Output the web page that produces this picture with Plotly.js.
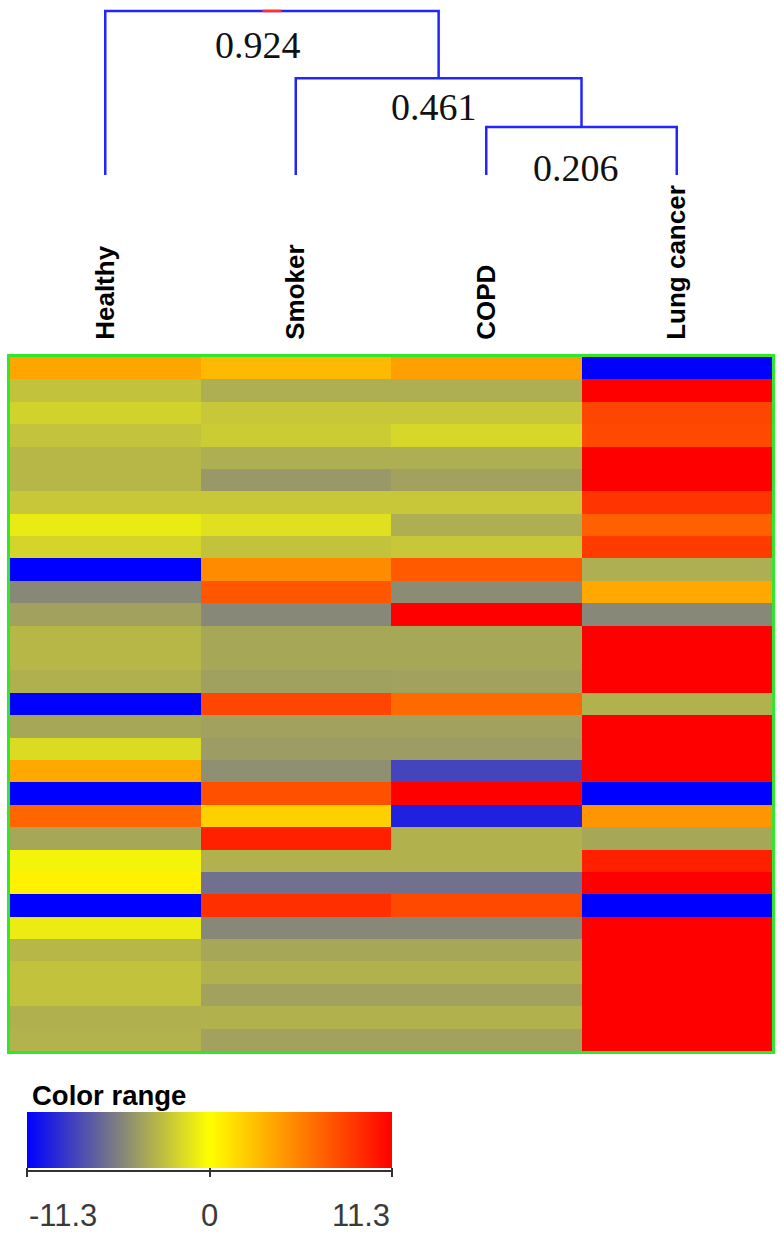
<!DOCTYPE html>
<html>
<head>
<meta charset="utf-8">
<script src="https://cdn.plot.ly/plotly-3.0.1.min.js"></script>
<style>
  html, body { margin: 0; padding: 0; background: #ffffff; }
  #chart { width: 781px; height: 1236px; }
</style>
</head>
<body>
<div id="chart"></div>
<script>
// ---------------- data ----------------
const groups = ['Healthy', 'Smoker', 'COPD', 'Lung cancer'];

const healthy    = [4.0, -2.7, -2.0, -2.65, -3.2, -3.2, -2.5, -0.9, -1.9, -11.3, -5.3, -4.15, -3.2, -3.2, -3.5, -11.3, -3.9, -1.6, 3.85, -11.3, 6.8, -3.9, -0.5, 0.6, -11.3, -0.85, -3.2, -2.7, -2.7, -3.5, -3.4];
const smoker     = [3.1, -3.6, -2.5, -2.3, -3.6, -4.6, -2.5, -1.4, -2.7, 5.1, 7.5, -5.3, -3.9, -3.9, -4.2, 8.2, -4.15, -4.4, -5.0, 7.75, 2.1, 9.9, -3.45, -6.3, 9.2, -5.3, -3.9, -3.45, -4.15, -3.45, -4.15];
const copd       = [4.25, -3.6, -2.5, -1.8, -3.6, -4.15, -2.5, -3.6, -2.5, 7.3, -5.1, 11.3, -3.9, -3.9, -4.15, 6.6, -4.15, -4.4, -8.3, 11.3, -9.9, -3.45, -3.45, -6.3, 8.1, -5.3, -3.9, -3.45, -4.15, -3.45, -4.15];
const lungCancer = [-11.3, 11.3, 8.2, 8.1, 11.3, 11.3, 9.0, 7.05, 8.7, -3.6, 3.8, -5.3, 11.3, 11.3, 11.3, -3.45, 11.3, 11.3, 11.3, -11.3, 4.7, -3.9, 9.9, 11.3, -11.3, 11.3, 11.3, 11.3, 11.3, 11.3, 11.3];

const colorMin = -11.3;
const colorMax = 11.3;
const colorTicks = [-11.3, 0, 11.3];
const colorTickText = ['-11.3', '0', '11.3'];
const colorTitle = 'Color range';

// dendrogram: merges [leftChild, rightChild]; leaves are 0..3, merges are 'm0','m1','m2'
const merges = [[2, 3], [1, 'm0'], [0, 'm1']];
const mergeDistance = ['0.206', '0.461', '0.924'];
const mergeDrawnHeight = [1.0, 2.02, 3.42];   // relative drawn heights

// ---------------- styling ----------------
const W = 781, H = 1236;
const px2x = p => p / W;
const px2y = p => 1 - p / H;
const barLeft = 27, barLen = 365;

const heat = {
  type: 'heatmap',
  x: groups,
  z: healthy.map((v, i) => [healthy[i], smoker[i], copd[i], lungCancer[i]]),
  zmin: colorMin, zmax: colorMax,
  colorscale: [[0, '#0000FF'], [0.25, '#808080'], [0.5, '#FFFF00'], [1, '#FF0000']],
  xaxis: 'x', yaxis: 'y',
  hoverinfo: 'skip',
  colorbar: {
    orientation: 'h',
    lenmode: 'pixels', len: barLen,
    thickness: 56, thicknessmode: 'pixels',
    x: px2x(barLeft), xanchor: 'left',
    y: px2y(1112), yanchor: 'top',
    xpad: 0, ypad: 0,
    outlinewidth: 0,
    tickmode: 'array', tickvals: colorTicks,
    showticklabels: false,
    ticks: 'outside', ticklen: 9, tickwidth: 2, tickcolor: '#333'
  }
};

// build dendrogram line segments from merges
const nodeX = {}, nodeY = {};
groups.forEach((g, i) => { nodeX[i] = i; nodeY[i] = 0; });
const dx = [], dy = [];
merges.forEach((m, k) => {
  const [a, b] = m;
  const h = mergeDrawnHeight[k];
  dx.push(nodeX[a], nodeX[a], nodeX[b], nodeX[b], null);
  dy.push(nodeY[a], h, h, nodeY[b], null);
  nodeX['m' + k] = (nodeX[a] + nodeX[b]) / 2;
  nodeY['m' + k] = h;
});
const dendro = {
  type: 'scatter', mode: 'lines', x: dx, y: dy,
  xaxis: 'x2', yaxis: 'y2',
  line: { color: '#2424FF', width: 2.5 },
  hoverinfo: 'skip', showlegend: false
};
const rootK = merges.length - 1;
const rootX = nodeX['m' + rootK];
const rootMark = {
  type: 'scatter', mode: 'lines',
  x: [rootX - 0.05, rootX + 0.05],
  y: [mergeDrawnHeight[rootK], mergeDrawnHeight[rootK]],
  xaxis: 'x2', yaxis: 'y2',
  line: { color: '#FF3030', width: 2.5 },
  hoverinfo: 'skip', showlegend: false
};

// label offsets, in the order of merges: 0.206, 0.461, 0.924
const labelShiftX = [-6, -5, -14];
const labelShiftY = [-18, -6, -11];
const annotations = merges.map((m, k) => ({
  x: nodeX['m' + k], y: mergeDrawnHeight[k], xref: 'x2', yref: 'y2',
  text: mergeDistance[k], showarrow: false,
  xanchor: 'center', yanchor: 'top',
  xshift: labelShiftX[k], yshift: labelShiftY[k],
  font: { family: 'Liberation Serif, Times New Roman, serif', size: 38, color: '#111' }
}));

// colour bar tick labels and title
const tickAnchors = ['left', 'center', 'right'];
colorTicks.forEach((v, i) => {
  annotations.push({
    x: px2x(barLeft + (v - colorMin) / (colorMax - colorMin) * barLen),
    y: px2y(1215), xref: 'paper', yref: 'paper',
    text: colorTickText[i], showarrow: false,
    xanchor: tickAnchors[i], yanchor: 'middle',
    font: { family: 'Liberation Sans, Arial, sans-serif', size: 31, color: '#3a3a3a' }
  });
});
annotations.push({
  x: px2x(30), y: px2y(1095), xref: 'paper', yref: 'paper',
  text: colorTitle, showarrow: false, xanchor: 'left', yanchor: 'middle',
  font: { family: 'Liberation Sans, Arial, sans-serif', size: 27.5, color: '#000', weight: 'bold' }
});

const pxPerUnit = 164 / 3.42;
const layout = {
  width: W, height: H,
  margin: { l: 0, r: 0, t: 0, b: 0 },
  paper_bgcolor: '#ffffff', plot_bgcolor: '#ffffff',
  showlegend: false,
  xaxis: {
    domain: [px2x(10), px2x(772)],
    side: 'top', tickangle: -90, ticks: '',
    ticklabelstandoff: 9,
    tickfont: { family: 'Liberation Sans, Arial, sans-serif', size: 26, color: '#000', weight: 'bold' },
    showline: true, mirror: true, linecolor: '#2EE82E', linewidth: 3,
    showgrid: false, zeroline: false, fixedrange: true
  },
  yaxis: {
    domain: [px2y(1051), px2y(357)],
    autorange: 'reversed',
    showticklabels: false, ticks: '',
    showline: true, mirror: true, linecolor: '#2EE82E', linewidth: 3,
    showgrid: false, zeroline: false, fixedrange: true
  },
  xaxis2: {
    domain: [px2x(10), px2x(772)], range: [-0.5, 3.5],
    anchor: 'y2', visible: false, fixedrange: true
  },
  yaxis2: {
    domain: [px2y(181), px2y(5)],
    range: [-6 / pxPerUnit, 3.42 + 6 / pxPerUnit],
    anchor: 'x2', visible: false, fixedrange: true
  },
  shapes: [{
    type: 'line', xref: 'paper', yref: 'paper',
    x0: px2x(barLeft), x1: px2x(barLeft + barLen), y0: px2y(1171), y1: px2y(1171),
    line: { color: '#333', width: 2 }
  }],
  annotations: annotations
};

Plotly.newPlot('chart', [heat, dendro, rootMark], layout, { staticPlot: true, displayModeBar: false });
</script>
</body>
</html>
